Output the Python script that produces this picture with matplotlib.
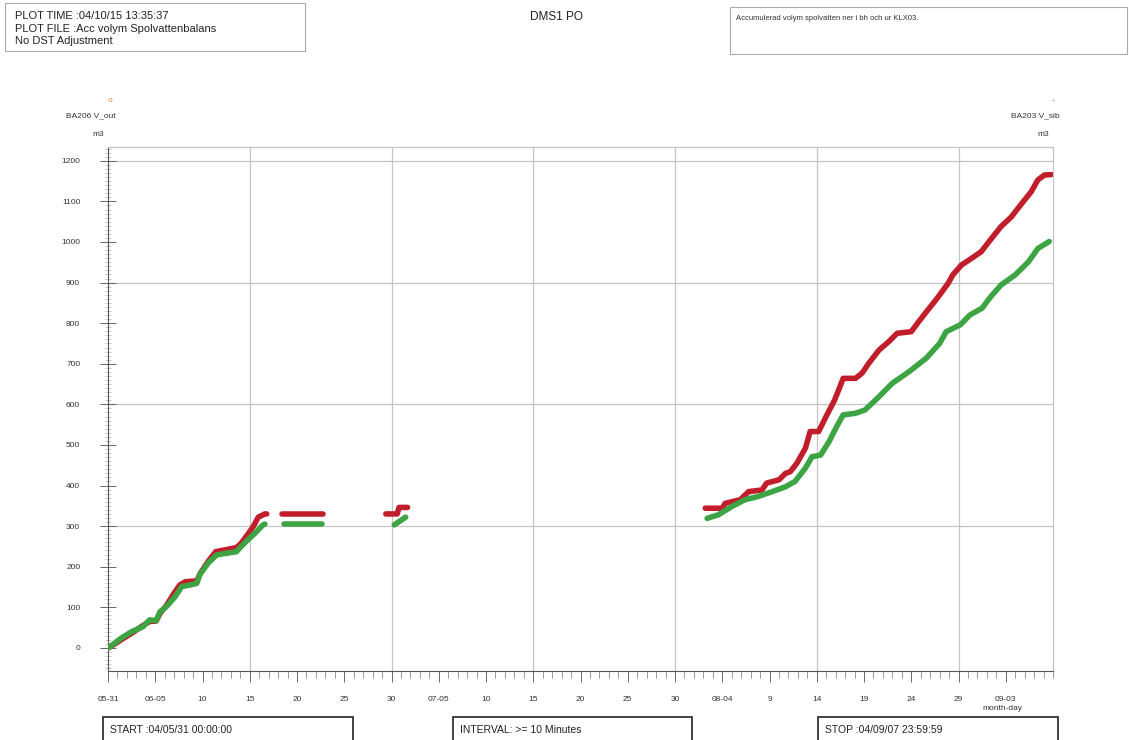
import numpy as np
import pandas as pd
import matplotlib
matplotlib.use("Agg")
import matplotlib.pyplot as plt
import matplotlib.dates as mdates
from matplotlib.patches import Rectangle

plt.rcParams['font.family'] = ['Liberation Sans', 'DejaVu Sans']

# --- Data (days counted from START 04/05/31 00:00) ---
START = pd.Timestamp("2004-05-31")
STOP = pd.Timestamp("2004-09-08")

# BA206 V_out (red), one list per logged stretch
out_days = [
    [0.0, 0.2, 1.4, 2.5, 3.7, 4.4, 5.1, 5.5, 6.2, 7.0, 7.6, 8.2, 9.4, 9.8,
     10.6, 11.4, 12.5, 13.6, 14.1, 14.8, 15.4, 15.9, 16.6, 16.8],
    [18.4, 22.8],
    [29.4, 30.6, 30.8, 31.7],
    [63.2, 65.0, 65.3, 66.9, 67.8, 69.2, 69.7, 71.0, 71.7, 72.2, 72.9, 73.8,
     74.3, 75.2, 75.9, 76.9, 77.8, 79.1, 79.8, 80.5, 81.6, 82.6, 83.5, 85.0,
     85.8, 86.6, 87.7, 88.9, 89.4, 90.3, 91.4, 92.4, 93.5, 94.5, 95.6, 96.7,
     97.7, 98.4, 99.1, 99.8],
]
out_vals = [
    [0, 2, 20, 36, 55, 65, 66, 85, 105, 135, 155, 163, 165, 185,
     213, 237, 242, 247, 258, 280, 300, 322, 330, 330],
    [330, 330],
    [330, 330, 346, 346],
    [344, 344, 356, 365, 385, 389, 406, 414, 430, 434, 455, 492,
     533, 533, 566, 611, 664, 664, 677, 701, 734, 754, 775, 779,
     804, 828, 860, 898, 919, 943, 960, 976, 1009, 1038, 1062, 1095,
     1124, 1153, 1165, 1166],
]

# BA203 V_sib (green)
sib_days = [
    [0.0, 0.2, 1.4, 2.5, 3.7, 4.4, 5.1, 5.5, 6.2, 7.1, 7.8, 8.7, 9.4, 9.7,
     10.6, 11.5, 12.5, 13.6, 14.1, 14.8, 15.7, 16.4, 16.6],
    [18.6, 22.6],
    [30.3, 31.5],
    [63.4, 64.6, 66.0, 67.4, 68.8, 70.3, 71.7, 72.7, 73.8, 74.5, 75.4, 76.3,
     77.1, 77.8, 79.1, 80.1, 81.6, 83.0, 84.8, 86.6, 88.0, 88.7, 90.2, 91.2,
     92.5, 93.3, 94.5, 96.0, 97.4, 98.4, 99.6],
]
sib_vals = [
    [0, 3, 24, 40, 52, 69, 67, 89, 102, 126, 151, 155, 159, 180,
     209, 229, 233, 237, 250, 266, 286, 303, 305],
    [305, 305],
    [303, 322],
    [319, 328, 348, 365, 373, 385, 397, 410, 443, 471, 475, 508,
     545, 574, 578, 586, 619, 652, 681, 714, 750, 779, 796, 820,
     837, 862, 894, 919, 951, 984, 1001],
]

tick_labels = ["05-31", "06-05", "10", "15", "20", "25", "30", "07-05", "10",
               "15", "20", "25", "30", "08-04", "9", "14", "19", "24", "29",
               "09-03"]

RED = "#c21d2b"
GREEN = "#3da443"
GRID = "#c4c4c4"
W, H = 1129, 740


def fx(px):
    return px / W


def fy(py):
    return 1 - py / H


def to_dates(days):
    return START + pd.to_timedelta(np.array(days), unit="D")


fig = plt.figure(figsize=(W / 100, H / 100), dpi=100)
ax = fig.add_axes([fx(108), fy(671), fx(1053) - fx(108), fy(147) - fy(671)])

for d, v in zip(out_days, out_vals):
    ax.plot(to_dates(d), v, color=RED, lw=4.0, solid_capstyle="round",
            solid_joinstyle="round", zorder=3)
for d, v in zip(sib_days, sib_vals):
    ax.plot(to_dates(d), v, color=GREEN, lw=4.0, solid_capstyle="round",
            solid_joinstyle="round", zorder=4)

ax.set_xlim(START, STOP)
ax.set_ylim(-57, 1234)

# grid every 15 days / 300 m3
for k in range(15, 100, 15):
    ax.axvline(START + pd.Timedelta(days=k), color=GRID, lw=0.9, zorder=1)
for v in range(300, 1201, 300):
    ax.axhline(v, color=GRID, lw=0.9, zorder=1)

major = to_dates([5 * i for i in range(len(tick_labels))])
ax.set_xticks(major)
ax.set_xticklabels(tick_labels)
ax.xaxis.set_minor_locator(mdates.DayLocator())
ax.set_yticks(range(0, 1201, 100))
ax.set_yticklabels([str(v) for v in range(0, 1201, 100)])
ax.set_yticks(range(-50, 1231, 10), minor=True)

ax.tick_params(axis="x", which="major", direction="out", length=8, width=0.7,
               color="#666666", labelsize=6, labelcolor="#333333", pad=10)
ax.tick_params(axis="x", which="minor", direction="out", length=5, width=0.6,
               color="#888888")
ax.tick_params(axis="y", which="major", direction="inout", length=12, width=0.7,
               color="#666666", labelsize=6, labelcolor="#333333", pad=14)
ax.tick_params(axis="y", which="minor", direction="inout", length=4, width=0.4,
               color="#a0a0a0")

for side in ("left", "bottom"):
    ax.spines[side].set_color("#555555")
    ax.spines[side].set_linewidth(0.8)
for side in ("top", "right"):
    ax.spines[side].set_color(GRID)
    ax.spines[side].set_linewidth(0.9)

# header boxes
hdr = dict(fontsize=8, color="#222222", va="center", ha="left")
fig.patches.append(Rectangle((fx(5), fy(51)), fx(305) - fx(5), fy(3) - fy(51),
                             transform=fig.transFigure, fill=False,
                             ec="#aaaaaa", lw=0.8))
fig.text(fx(15), fy(16), "PLOT TIME :04/10/15 13:35:37", **hdr)
fig.text(fx(15), fy(29), "PLOT FILE :Acc volym Spolvattenbalans", **hdr)
fig.text(fx(15), fy(41), "No DST Adjustment", **hdr)
fig.text(fx(556), fy(17), "DMS1 PO", fontsize=8.5, color="#222222",
         ha="center", va="center")
fig.patches.append(Rectangle((fx(730), fy(54)), fx(1127) - fx(730), fy(7) - fy(54),
                             transform=fig.transFigure, fill=False,
                             ec="#aaaaaa", lw=0.8))
fig.text(fx(736), fy(18), "Accumulerad volym spolvatten ner i bh och ur KLX03.",
         fontsize=5.5, color="#333333", ha="left", va="center")

# series headings
fig.text(fx(110), fy(101), "o", fontsize=6, color="#e08a4a", ha="center", va="center")
fig.text(fx(91), fy(116), "BA206 V_out", fontsize=6, color="#333333",
         ha="center", va="center")
fig.text(fx(98), fy(135), "m3", fontsize=6, color="#333333", ha="center", va="center")
fig.text(fx(1053), fy(102), "+", fontsize=6, color="#bbbbbb", ha="center", va="center")
fig.text(fx(1035), fy(116), "BA203 V_sib", fontsize=6, color="#333333",
         ha="center", va="center")
fig.text(fx(1043), fy(135), "m3", fontsize=6, color="#333333", ha="center", va="center")
fig.text(fx(1002), fy(709), "month-day", fontsize=6, color="#333333",
         ha="center", va="center")

# footer boxes
for x0, x1, label in [(103, 353, "START :04/05/31 00:00:00"),
                      (453, 692, "INTERVAL: >= 10 Minutes"),
                      (818, 1058, "STOP :04/09/07 23:59:59")]:
    fig.patches.append(Rectangle((fx(x0), fy(745)), fx(x1) - fx(x0), fy(717) - fy(745),
                                 transform=fig.transFigure, fill=False,
                                 ec="#333333", lw=1.3))
    fig.text(fx(x0 + 7), fy(730), label, fontsize=7.5, color="#222222",
             ha="left", va="center")

fig.savefig("out.png", dpi=100)
